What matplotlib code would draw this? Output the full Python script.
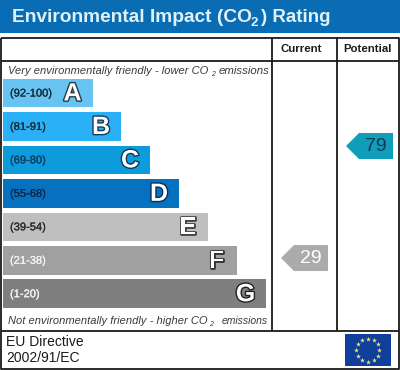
import numpy as np
import matplotlib
matplotlib.use("Agg")
import matplotlib.pyplot as plt
import matplotlib.patheffects as pe
from matplotlib.patches import Polygon, Rectangle

plt.rcParams['font.family'] = ['Liberation Sans', 'DejaVu Sans']

# ---- data
letters = ['A', 'B', 'C', 'D', 'E', 'F', 'G']
ranges = ['(92-100)', '(81-91)', '(69-80)', '(55-68)', '(39-54)', '(21-38)', '(1-20)']
bar_lengths = [90, 118.5, 147.5, 176.5, 205.5, 234, 263]
bar_colors = ['#66C3F2', '#2AB0F6', '#0E9BDC', '#0672BF', '#BFBFBF', '#A0A0A0', '#7F7F7F']
range_colors = ['#1A2A38', '#1A2A38', '#0B3F66', '#0A2A50', '#2A2A2A', '#F4F4F4', '#F4F4F4']
letter_edges = ['#2A3A44', '#1A3A55', '#0A3A5E', '#06305A', '#444444', '#333333', '#222222']
current = 29
potential = 79
column_titles = ['Current', 'Potential']

fig = plt.figure(figsize=(4, 3.7), dpi=100)
ax = fig.add_axes([0, 0, 1, 1])
ax.set_xlim(0, 400)
ax.set_ylim(370, 0)
ax.axis('off')

# title band
ax.add_patch(Rectangle((0, 0), 400, 32.5, fc='#0A6DB4', ec='none'))
title_color = '#DDF1FA'
ax.text(11.5, 17.5, 'Environmental Impact (CO', fontsize=13.75, fontweight='bold',
        color=title_color, va='center', ha='left')
ax.text(250.5, 23, '2', fontsize=9.5, fontweight='bold', color=title_color, va='center', ha='left')
ax.text(261, 17.5, ') Rating', fontsize=13.5, fontweight='bold', color=title_color,
        va='center', ha='left')

# frame
line = dict(color='#1A1A1A', lw=1.3, solid_capstyle='butt')
ax.plot([1, 398.5, 398.5, 1, 1], [37.5, 37.5, 369, 369, 37.5], **line)
ax.plot([1, 398.5], [61, 61], **line)
ax.plot([1, 398.5], [331, 331], **line)
ax.plot([271.5, 271.5], [37.5, 331], **line)
ax.plot([336.5, 336.5], [37.5, 331], **line)

for x, s in zip([301.5, 367.5], column_titles):
    ax.text(x, 49, s, fontsize=8.2, fontweight='bold', color='#1A1A1A', ha='center', va='center')

# bars
y_pos = 93 + 33.45 * np.arange(len(letters))
ax.barh(y_pos, bar_lengths, height=28.5, left=2.5, color=bar_colors, edgecolor='none')
for y, length, rng, rc, let, le in zip(y_pos, bar_lengths, ranges, range_colors, letters, letter_edges):
    ax.text(10, y + 0.5, rng, fontsize=8, color=rc, ha='left', va='center',
            path_effects=[pe.withStroke(linewidth=0.15, foreground=rc)])
    ax.text(2.5 + length - 20, y + 0.5, let, fontsize=18, fontweight='bold', color='white',
            ha='center', va='center',
            path_effects=[pe.withStroke(linewidth=2, foreground=le)])

# captions
cap = dict(style='italic', color='#3A3A3A', ha='left', va='center')
ax.text(8, 71, 'Very environmentally friendly - lower CO', fontsize=8.05, **cap)
ax.text(211, 74.5, '2', fontsize=5, **cap)
ax.text(219, 71, 'emissions', fontsize=8.2, **cap)
ax.text(7.5, 320.5, 'Not environmentally friendly - higher CO', fontsize=8.05, **cap)
ax.text(209, 324.5, '2', fontsize=5, **cap)
ax.text(222, 320.5, 'emissions', fontsize=7.5, **cap)

# rating arrows
def arrow(value, x_tip, x_right, fc, tc):
    yc = 323 - 2.24 * value
    ax.add_patch(Polygon([(x_tip, yc), (x_tip + 13, yc - 13), (x_right, yc - 13),
                          (x_right, yc + 13), (x_tip + 13, yc + 13)], closed=True, fc=fc, ec='none'))
    ax.text((x_tip + 13 + x_right) / 2 - 0.5, yc + 0.5, str(value), fontsize=14, color=tc,
            ha='center', va='center')

arrow(current, 281, 328, '#ABABAB', '#FFFFFF')
arrow(potential, 346, 393, '#0F9DB9', '#0E3A55')

# footer
ax.text(6, 341.5, 'EU Directive', fontsize=10, color='#1A1A1A', ha='left', va='center')
ax.text(6, 358.5, '2002/91/EC', fontsize=10, color='#1A1A1A', ha='left', va='center')

# EU flag
ax.add_patch(Rectangle((344.5, 334), 46.5, 32, fc='#0F3F9A', ec='none'))
angles = np.deg2rad(np.arange(0, 360, 30))
ax.scatter(367.8 + 11.5 * np.cos(angles), 350 + 11.5 * np.sin(angles), marker='*', s=14,
           color='#E8E878', linewidths=0, zorder=5)

fig.savefig('out.png', dpi=100)
